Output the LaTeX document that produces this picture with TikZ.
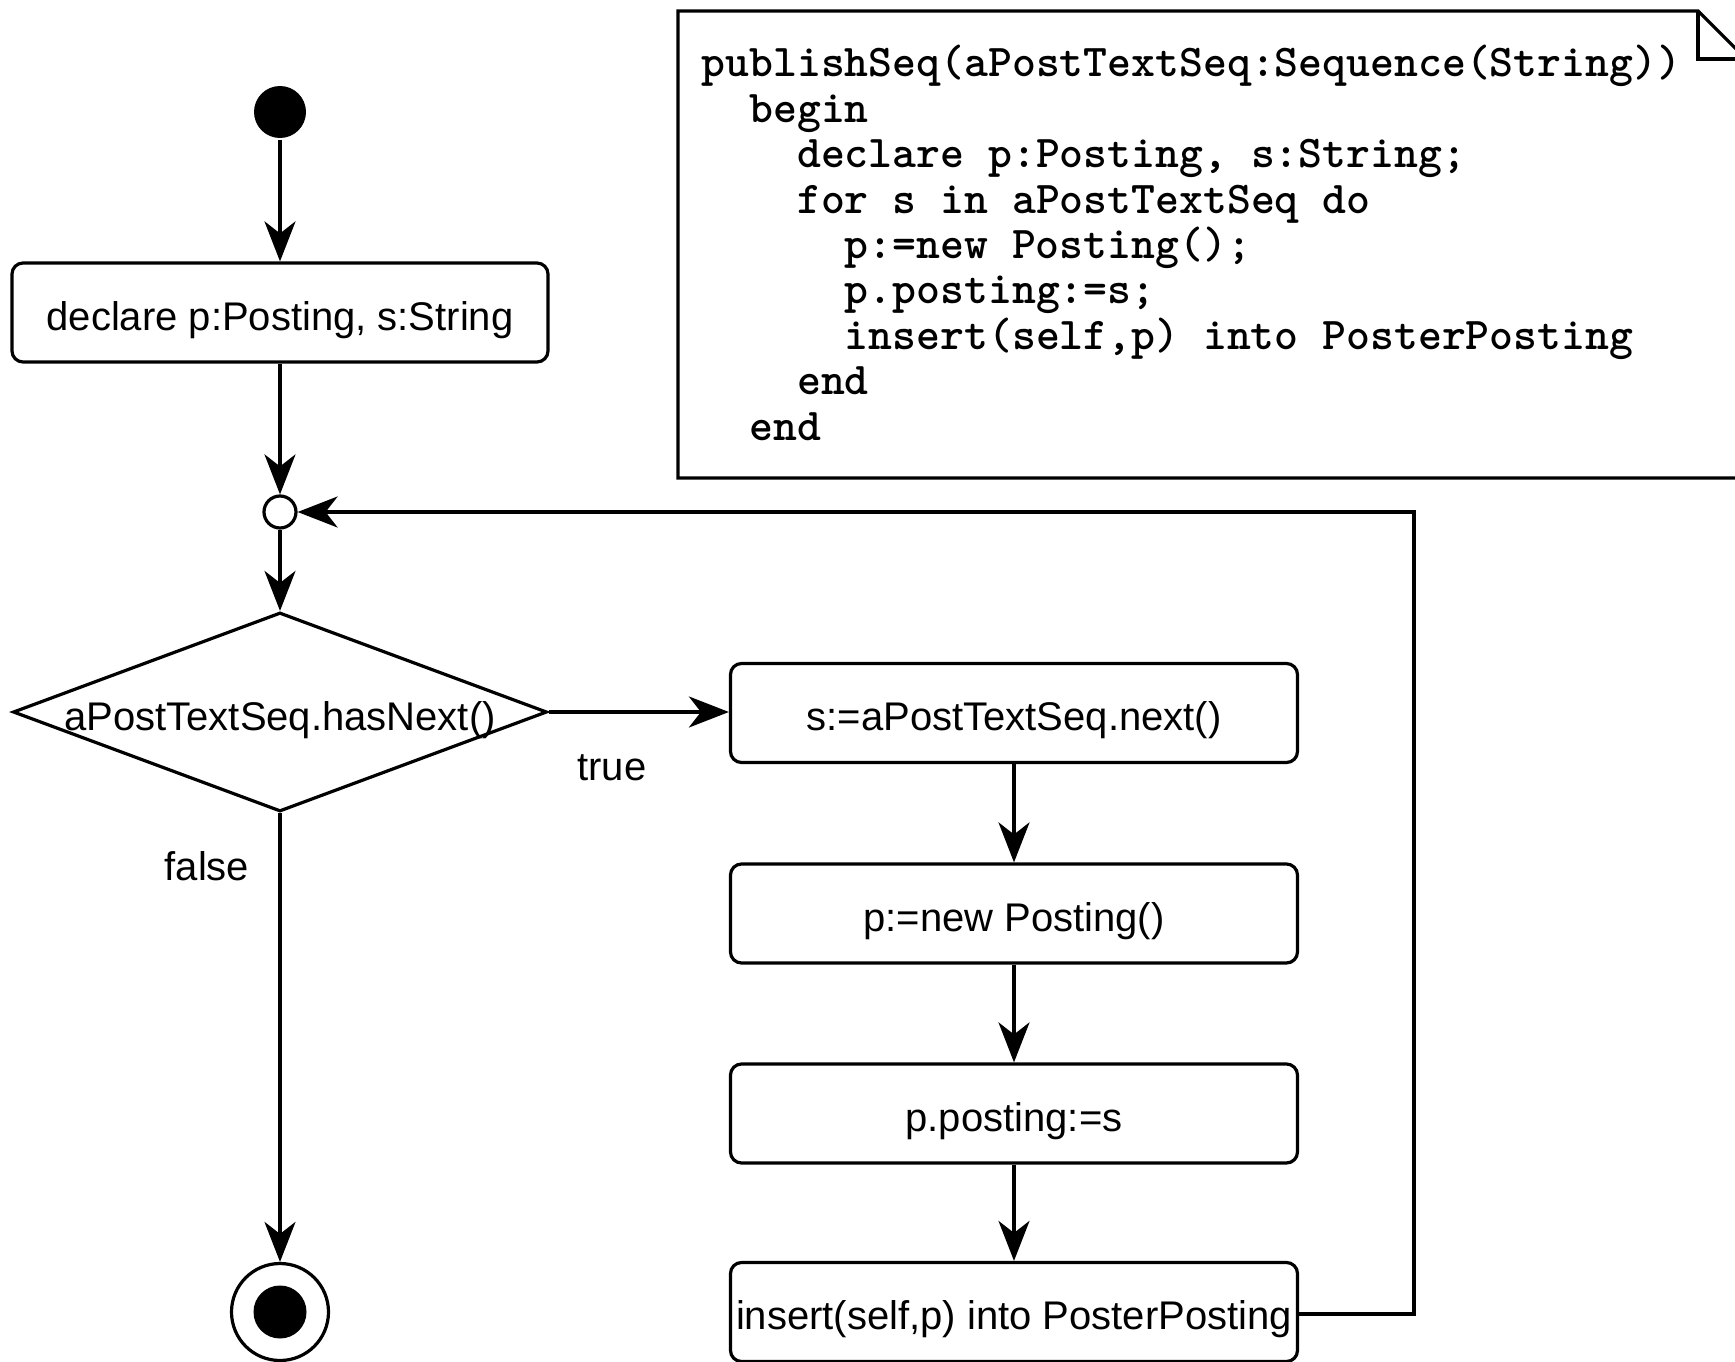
\documentclass[tikz,border=0pt]{standalone}
\usepackage{fontspec}
\setmainfont{Liberation Sans}
\usetikzlibrary{shapes.geometric,arrows.meta}
\newcommand\lblfont{\fontsize{40}{48}\selectfont}
\newcommand\notefont{\fontsize{45.5}{45.4}\selectfont\ttfamily\bfseries}
\begin{document}
\begin{tikzpicture}[x=1pt,y=-1pt,line width=3.2pt,
  >={Stealth[length=40pt,width=31pt,inset=12pt]},
  action/.style={draw,rounded corners=11pt,fill=white,minimum width=567pt,minimum height=99pt,inner sep=0pt,font=\lblfont,text height=35pt,text depth=0pt},
  lbl/.style={font=\lblfont,inner sep=0pt}]
\useasboundingbox (0,0) rectangle (1735,1362);
\clip (0,0) rectangle (1735,1362);
\fill[white] (0,0) rectangle (1735,1362);
% note
\draw[fill=white] (678,11) -- (1698,11) -- (1746,59) -- (1746,478) -- (678,478) -- cycle;
\draw (1698,11) -- (1698,59) -- (1746,59);
\node[anchor=base west,align=left,font=\notefont,inner sep=0pt] (code) at (700,440)
 {publishSeq(aPostTextSeq:Sequence(String))\\
  ~~begin\\
  ~~~~declare p:Posting, s:String;\\
  ~~~~for s in aPostTextSeq do\\
  ~~~~~~p:=new Posting();\\
  ~~~~~~p.posting:=s;\\
  ~~~~~~insert(self,p) into PosterPosting\\
  ~~~~end\\
  ~~end};
% nodes
\node[circle,fill=black,minimum size=52pt,inner sep=0pt] (start) at (280,112) {};
\node[action,minimum width=536pt] (decl) at (280,312.5) {declare p:Posting, s:String};
\node[circle,draw,fill=white,minimum size=32pt,inner sep=0pt] (merge) at (280,512) {};
\node[diamond,draw,fill=white,minimum width=534pt,minimum height=199pt,inner sep=0pt] (dec) at (280,712) {};
\node[lbl,text height=35pt,text depth=0pt] (dectext) at (280,713) {aPostTextSeq.hasNext()};
\node[action] (a1) at (1014,713) {s:=aPostTextSeq.next()};
\node[action] (a2) at (1014,913.5) {p:=new Posting()};
\node[action] (a3) at (1014,1113.5) {p.posting:=s};
\node[action] (a4) at (1014,1312) {insert(self,p) into PosterPosting};
\node[circle,draw,minimum size=97pt,inner sep=0pt] (final) at (280,1312) {};
\node[circle,fill=black,minimum size=53pt,inner sep=0pt] (finaldot) at (final.center) {};
\node[lbl] (truelbl) at (612,768) {true};
\node[lbl] (falselbl) at (207,866) {false};
\coordinate (loopc) at (1414,512);
% edges
\draw[->] (start) -- (decl);
\draw[->] (decl) -- (merge);
\draw[->] (merge) -- (dec);
\draw[->] (dec.east) -- (dec.east -| a1.west);
\draw[->] (a1) -- (a2);
\draw[->] (a2) -- (a3);
\draw[->] (a3) -- (a4);
\draw[->] (dec) -- (final);
\draw[->] ([yshift=-2pt]a4.east) -| (loopc) -- (merge);
\end{tikzpicture}
\end{document}
